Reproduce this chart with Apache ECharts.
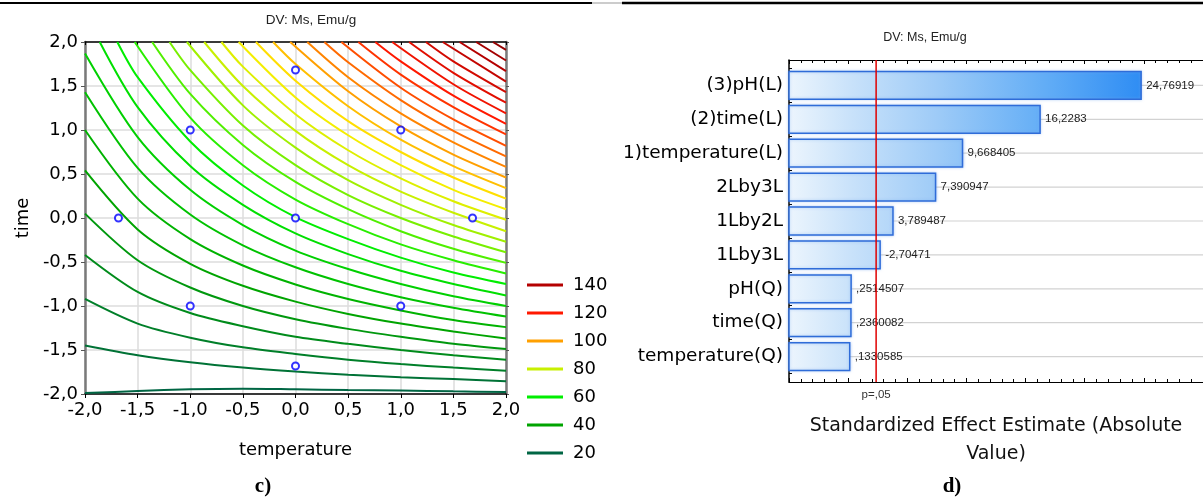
<!DOCTYPE html>
<html>
<head>
<meta charset="utf-8">
<script src="https://cdn.jsdelivr.net/npm/echarts@6/dist/echarts.min.js"></script>
<style>
  html, body { margin: 0; padding: 0; background: #ffffff; }
  #chart { width: 1203px; height: 497px; }
</style>
</head>
<body>
<div id="chart"></div>
<script>
// ---- contour plot: Ms (emu/g) over temperature (x) and time (y), coded units ----
const contourLevels = [20, 24, 28, 32, 36, 40, 44, 48, 52, 56, 60, 64, 68, 72, 76, 80, 84,
  88, 92, 96, 100, 104, 108, 112, 116, 120, 124, 128, 132, 136, 140, 144, 148];

// each contour line as [temperature, time] points, one list per level above
const contourLines = [
  [[-2,-1.99],[-1.5,-1.966],[-1,-1.947],[-0.5,-1.94],[0,-1.947],[0.5,-1.955],[1,-1.96],[1.5,-1.97],[2,-1.977]],
  [[-2,-1.45],[-1.5,-1.56],[-1,-1.64],[-0.5,-1.70],[0,-1.745],[0.5,-1.78],[1,-1.81],[1.5,-1.83],[2,-1.855]],
  [[-2,-0.92],[-1.5,-1.20],[-1,-1.36],[-0.5,-1.47],[0,-1.545],[0.5,-1.61],[1,-1.66],[1.5,-1.70],[2,-1.735]],
  [[-2,-0.42],[-1.5,-0.84],[-1,-1.08],[-0.5,-1.23],[0,-1.35],[0.5,-1.43],[1,-1.50],[1.5,-1.56],[2,-1.61]],
  [[-2,0.05],[-1.5,-0.48],[-1,-0.79],[-0.5,-1.00],[0,-1.15],[0.5,-1.26],[1,-1.35],[1.5,-1.43],[2,-1.49]],
  [[-2,0.54],[-1.5,-0.13],[-1,-0.52],[-0.5,-0.77],[0,-0.95],[0.5,-1.09],[1,-1.20],[1.5,-1.29],[2,-1.37]],
  [[-2,1.00],[-1.5,0.22],[-1,-0.24],[-0.5,-0.54],[0,-0.755],[0.5,-0.92],[1,-1.05],[1.5,-1.16],[2,-1.24]],
  [[-2,1.43],[-1.5,0.57],[-1,0.04],[-0.5,-0.31],[0,-0.56],[0.5,-0.75],[1,-0.90],[1.5,-1.02],[2,-1.12]],
  [[-2,1.87],[-1.5,0.92],[-1,0.32],[-0.5,-0.08],[0,-0.37],[0.5,-0.58],[1,-0.75],[1.5,-0.89],[2,-1.00]],
  [[-1.86,2],[-1.5,1.26],[-1,0.59],[-0.5,0.15],[0,-0.175],[0.5,-0.41],[1,-0.60],[1.5,-0.75],[2,-0.88]],
  [[-1.693,2],[-1.5,1.60],[-1,0.87],[-0.5,0.37],[0,0.01],[0.5,-0.24],[1,-0.45],[1.5,-0.62],[2,-0.75]],
  [[-1.528,2],[-1,1.14],[-0.5,0.60],[0,0.21],[0.5,-0.07],[1,-0.30],[1.5,-0.48],[2,-0.63]],
  [[-1.362,2],[-1,1.41],[-0.5,0.83],[0,0.41],[0.5,0.10],[1,-0.15],[1.5,-0.35],[2,-0.51]],
  [[-1.197,2],[-1,1.68],[-0.5,1.05],[0,0.60],[0.5,0.26],[1,0.00],[1.5,-0.21],[2,-0.39]],
  [[-1.032,2],[-0.5,1.28],[0,0.80],[0.5,0.43],[1,0.15],[1.5,-0.08],[2,-0.27]],
  [[-0.868,2],[-0.5,1.50],[0,0.99],[0.5,0.60],[1,0.30],[1.5,0.06],[2,-0.15]],
  [[-0.704,2],[-0.5,1.72],[0,1.18],[0.5,0.77],[1,0.45],[1.5,0.19],[2,-0.02]],
  [[-0.54,2],[0,1.37],[0.5,0.94],[1,0.60],[1.5,0.32],[2,0.10]],
  [[-0.376,2],[0,1.56],[0.5,1.10],[1,0.75],[1.5,0.46],[2,0.22]],
  [[-0.213,2],[0,1.75],[0.5,1.27],[1,0.89],[1.5,0.59],[2,0.34]],
  [[-0.05,2],[0.5,1.44],[1,1.04],[1.5,0.72],[2,0.46]],
  [[0.112,2],[0.5,1.60],[1,1.19],[1.5,0.86],[2,0.58]],
  [[0.274,2],[0.5,1.77],[1,1.34],[1.5,0.99],[2,0.70]],
  [[0.436,2],[1,1.48],[1.5,1.12],[2,0.82]],
  [[0.597,2],[1,1.63],[1.5,1.26],[2,0.95]],
  [[0.758,2],[1,1.78],[1.5,1.39],[2,1.07]],
  [[0.919,2],[1.5,1.52],[2,1.19]],
  [[1.079,2],[1.5,1.65],[2,1.31]],
  [[1.239,2],[1.5,1.78],[2,1.43]],
  [[1.399,2],[2,1.55]],
  [[1.559,2],[2,1.67]],
  [[1.717,2],[2,1.79]],
  [[1.876,2],[2,1.91]]
];

// central composite design runs (coded temperature, coded time)
const designTemp = [-1, 1, -1, 1, -1.682, 1.682, 0, 0, 0];
const designTime = [-1, -1, 1, 1, 0, 0, -1.682, 1.682, 0];

// levels listed in the legend
const legendLevels = ['140', '120', '100', '80', '60', '40', '20'];

// ---- Pareto chart of standardized effects ----
const effectNames = ['(3)pH(L)', '(2)time(L)', '1)temperature(L)', '2Lby3L', '1Lby2L',
  '1Lby3L', 'pH(Q)', 'time(Q)', 'temperature(Q)'];
const effectValues = [24.76919, 16.2283, 9.668405, 7.390947, 3.789487,
  -2.70471, 0.2514507, 0.2360082, 0.1330585];
const pCritical = 2.365;   // t value for p = .05

// ---- styling helpers ----
const SANS = '"DejaVu Sans", sans-serif';
const ARIAL = '"Liberation Sans", Arial, sans-serif';

const colorStops = [
  [20, '#006644'], [40, '#00a400'], [60, '#00ee00'],
  [80, '#c8f000'], [90, '#ffee00'], [100, '#ffa000'], [120, '#ff1800'],
  [140, '#b40000'], [150, '#8c0000']
];
function hexToRgb(h) {
  return [parseInt(h.slice(1, 3), 16), parseInt(h.slice(3, 5), 16), parseInt(h.slice(5, 7), 16)];
}
function levelColor(v) {
  for (let i = 0; i < colorStops.length - 1; i++) {
    const [a, ca] = colorStops[i], [b, cb] = colorStops[i + 1];
    if (v >= a && v <= b) {
      const t = (v - a) / (b - a), p = hexToRgb(ca), q = hexToRgb(cb);
      const c = p.map((x, k) => Math.round(x + (q[k] - x) * t));
      return 'rgb(' + c.join(',') + ')';
    }
  }
  return colorStops[colorStops.length - 1][1];
}
function commaNum(v) {
  let s = String(v);
  s = s.replace(/^(-?)0\./, '$1.');
  return s.replace('.', ',');
}
const tickFmt = v => v.toFixed(1).replace('.', ',');

const PARETO_MIN = -5, PARETO_MAX = 30;
const barFill = new echarts.graphic.LinearGradient(789, 0, 1150, 0, [
  { offset: 0, color: '#ecf5fd' },
  { offset: 0.17, color: '#c9e2fa' },
  { offset: 0.41, color: '#9ecbf7' },
  { offset: 0.71, color: '#62adf6' },
  { offset: 1, color: '#2a8af3' }
], true);

const chart = echarts.init(document.getElementById('chart'), null, { renderer: 'canvas' });

const contourSeries = contourLines.map((pts, k) => {
  const c = levelColor(contourLevels[k]);
  return {
    type: 'line', name: String(contourLevels[k]),
    xAxisIndex: 0, yAxisIndex: 0,
    data: pts, symbol: 'none', showSymbol: false,
    smooth: 0.3,
    color: c, lineStyle: { width: 2, color: c },
    silent: true, z: 3
  };
});

const option = {
  animation: false,
  backgroundColor: '#ffffff',
  grid: [
    { left: 85, top: 42, width: 421, height: 352 },
    { left: 789, top: 60, width: 423, height: 322 }
  ],
  legend: {
    data: legendLevels,
    orient: 'vertical', left: 527, top: 275, padding: 0,
    icon: 'rect', itemWidth: 36, itemHeight: 3, itemGap: 8,
    selectedMode: false,
    textStyle: { fontFamily: SANS, fontSize: 18, color: '#000', lineHeight: 20, padding: [0, 0, 0, 5] }
  },
  xAxis: [
    {
      gridIndex: 0, type: 'value', min: -2, max: 2, interval: 0.5, position: 'bottom',
      axisLine: { onZero: false, lineStyle: { color: '#000', width: 1.5 } },
      axisTick: { show: true, inside: false, length: 4, lineStyle: { color: '#000' } },
      axisLabel: { formatter: tickFmt, fontFamily: SANS, fontSize: 18, color: '#000', margin: 7 },
      splitLine: { show: true, lineStyle: { color: '#dcdcdc', width: 1.5 } },
      name: 'temperature', nameLocation: 'middle', nameGap: 47,
      nameTextStyle: { fontFamily: SANS, fontSize: 18, color: '#000' }
    },
    {
      gridIndex: 0, type: 'value', min: -2, max: 2, interval: 0.5, position: 'top',
      axisLine: { onZero: false, lineStyle: { color: '#000', width: 1.5 } },
      axisTick: { show: true, inside: true, length: 3, lineStyle: { color: '#000' } },
      axisLabel: { show: false }, splitLine: { show: false }
    },
    {
      gridIndex: 1, type: 'value', min: PARETO_MIN, max: PARETO_MAX, interval: 5, position: 'bottom',
      axisLine: { onZero: false, lineStyle: { color: '#000', width: 1 } },
      axisTick: { show: true, inside: true, length: 4, lineStyle: { color: '#000' } },
      minorTick: { show: true, splitNumber: 5, length: 3, lineStyle: { color: '#000' } },
      axisLabel: { show: false }, splitLine: { show: false },
      name: 'Standardized Effect Estimate (Absolute\nValue)', nameLocation: 'middle', nameGap: 30,
      nameTextStyle: { fontFamily: SANS, fontSize: 19, color: '#111', lineHeight: 28 }
    },
    {
      gridIndex: 1, type: 'value', min: PARETO_MIN, max: PARETO_MAX, interval: 5, position: 'top',
      axisLine: { onZero: false, lineStyle: { color: '#000', width: 1 } },
      axisTick: { show: true, inside: true, length: 4, lineStyle: { color: '#000' } },
      minorTick: { show: true, splitNumber: 5, length: 3, lineStyle: { color: '#000' } },
      axisLabel: { show: false }, splitLine: { show: false }
    }
  ],
  yAxis: [
    {
      gridIndex: 0, type: 'value', min: -2, max: 2, interval: 0.5, position: 'left',
      axisLine: { show: true, onZero: false, lineStyle: { color: '#7a7a7a', width: 2.5 } },
      axisTick: { show: true, inside: false, length: 4, lineStyle: { color: '#555' } },
      axisLabel: { formatter: tickFmt, fontFamily: SANS, fontSize: 18, color: '#000', margin: 7 },
      splitLine: { show: true, lineStyle: { color: '#dcdcdc', width: 1.5 } },
      name: 'time', nameLocation: 'middle', nameGap: 53, nameRotate: 90,
      nameTextStyle: { fontFamily: SANS, fontSize: 18, color: '#000' }
    },
    {
      gridIndex: 0, type: 'value', min: -2, max: 2, interval: 0.5, position: 'right',
      axisLine: { show: true, onZero: false, lineStyle: { color: '#7a7a7a', width: 2.5 } },
      axisTick: { show: true, inside: false, length: 3, lineStyle: { color: '#555' } },
      axisLabel: { show: false }, splitLine: { show: false }
    },
    {
      gridIndex: 1, type: 'value', inverse: true, min: -0.75, max: 8.75, interval: 0.25,
      axisLine: { show: true, onZero: false, lineStyle: { color: '#000', width: 1.5 } },
      axisTick: { show: true, inside: true, length: 3, lineStyle: { color: '#000' } },
      axisLabel: { show: false }, splitLine: { show: false }
    }
  ],
  series: contourSeries.concat([
    {
      type: 'scatter', name: 'design', xAxisIndex: 0, yAxisIndex: 0,
      data: designTemp.map((t, i) => [t, designTime[i]]),
      symbol: 'circle', symbolSize: 7,
      itemStyle: { color: '#ffffff', borderColor: '#0000ff', borderWidth: 2 },
      silent: true, z: 5
    },
    {
      type: 'custom', name: 'effects', xAxisIndex: 2, yAxisIndex: 2,
      data: effectValues.map((v, i) => [Math.abs(v), i]),
      renderItem: function (params, api) {
        const v = api.value(0), i = api.value(1);
        const start = api.coord([PARETO_MIN, i]);
        const end = api.coord([v, i]);
        const h = api.size([0, 1])[1] * 0.82;
        const cs = params.coordSys;
        return {
          type: 'group',
          children: [
            { type: 'line', shape: { x1: start[0], y1: start[1], x2: cs.x + cs.width, y2: start[1] },
              style: { stroke: '#d2d2d2', lineWidth: 1.2 }, z2: 1 },
            { type: 'rect', shape: { x: start[0], y: start[1] - h / 2, width: end[0] - start[0], height: h },
              style: { fill: barFill, stroke: '#2f6cd8', lineWidth: 1.5,
                shadowBlur: 3, shadowColor: 'rgba(120,170,240,0.55)' }, z2: 2 },
            { type: 'text', x: end[0] + 5, y: start[1],
              style: { text: commaNum(effectValues[i]), fontFamily: ARIAL, fontSize: 11.5,
                fill: '#222', align: 'left', verticalAlign: 'middle' }, z2: 3 },
            { type: 'text', x: start[0] - 6, y: start[1],
              style: { text: effectNames[i], fontFamily: SANS, fontSize: 18.5,
                fill: '#000', align: 'right', verticalAlign: 'middle' }, z2: 3 }
          ]
        };
      },
      silent: true, z: 4
    },
    {
      type: 'custom', name: 'p05', xAxisIndex: 2, yAxisIndex: 2,
      data: [[pCritical, 0]],
      renderItem: function (params, api) {
        const p = api.coord([api.value(0), 0]);
        const cs = params.coordSys;
        return {
          type: 'group',
          children: [
            { type: 'line', shape: { x1: p[0], y1: cs.y, x2: p[0], y2: cs.y + cs.height },
              style: { stroke: '#e00000', lineWidth: 1.5 } },
            { type: 'text', x: p[0], y: cs.y + cs.height + 13,
              style: { text: 'p=,05', fontFamily: ARIAL, fontSize: 11.5, fill: '#333',
                align: 'center', verticalAlign: 'middle' } }
          ]
        };
      },
      silent: true, z: 6
    }
  ]),
  graphic: [
    { type: 'line', shape: { x1: 0, y1: 3, x2: 592, y2: 3 }, style: { stroke: '#000', lineWidth: 2 } },
    { type: 'line', shape: { x1: 592, y1: 3, x2: 622, y2: 3 }, style: { stroke: '#999', lineWidth: 1 } },
    { type: 'line', shape: { x1: 622, y1: 3, x2: 1203, y2: 3 }, style: { stroke: '#000', lineWidth: 2.5 } },
    { type: 'text', x: 311, y: 20, style: { text: 'DV: Ms, Emu/g', fontFamily: ARIAL, fontSize: 13.5,
      fill: '#222', align: 'center', verticalAlign: 'middle' } },
    { type: 'text', x: 925, y: 38, style: { text: 'DV: Ms, Emu/g', fontFamily: ARIAL, fontSize: 12.5,
      fill: '#222', align: 'center', verticalAlign: 'middle' } },
    { type: 'text', x: 263, y: 487, style: { text: 'c)', fontFamily: '"Liberation Serif", "DejaVu Serif", serif',
      fontSize: 21, fontWeight: 'bold', fill: '#000', align: 'center', verticalAlign: 'middle' } },
    { type: 'text', x: 952, y: 487, style: { text: 'd)', fontFamily: '"Liberation Serif", "DejaVu Serif", serif',
      fontSize: 21, fontWeight: 'bold', fill: '#000', align: 'center', verticalAlign: 'middle' } }
  ]
};

chart.setOption(option);
</script>
</body>
</html>
